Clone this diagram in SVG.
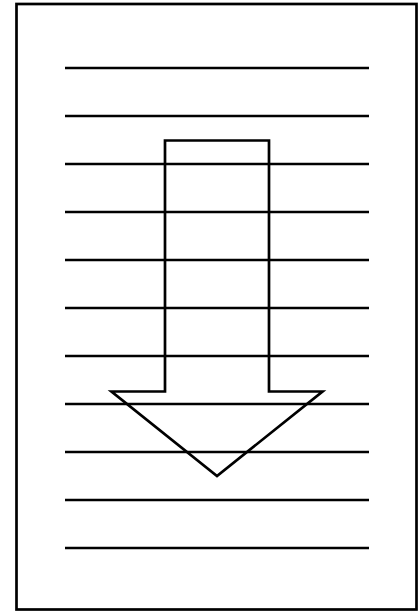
<svg xmlns="http://www.w3.org/2000/svg" width="418" height="611" viewBox="0 0 418 611">
<style>
.s{fill:none;stroke:#000;stroke-width:2.7}
</style>
<rect x="0" y="0" width="418" height="611" fill="#fff"/>
<g id="page"><rect class="s" x="16.5" y="4" width="400" height="605.5"/></g>
<g id="lines" class="s">
<line x1="65" y1="68" x2="369" y2="68"/>
<line x1="65" y1="116" x2="369" y2="116"/>
<line x1="65" y1="164" x2="369" y2="164"/>
<line x1="65" y1="212" x2="369" y2="212"/>
<line x1="65" y1="260" x2="369" y2="260"/>
<line x1="65" y1="308" x2="369" y2="308"/>
<line x1="65" y1="356" x2="369" y2="356"/>
<line x1="65" y1="404" x2="369" y2="404"/>
<line x1="65" y1="452" x2="369" y2="452"/>
<line x1="65" y1="500" x2="369" y2="500"/>
<line x1="65" y1="548" x2="369" y2="548"/>
</g>
<g id="arrow"><polygon class="s" points="165,140.5 269,140.5 269,391.5 322.5,391.5 217,476 111.5,391.5 165,391.5"/></g>
</svg>
